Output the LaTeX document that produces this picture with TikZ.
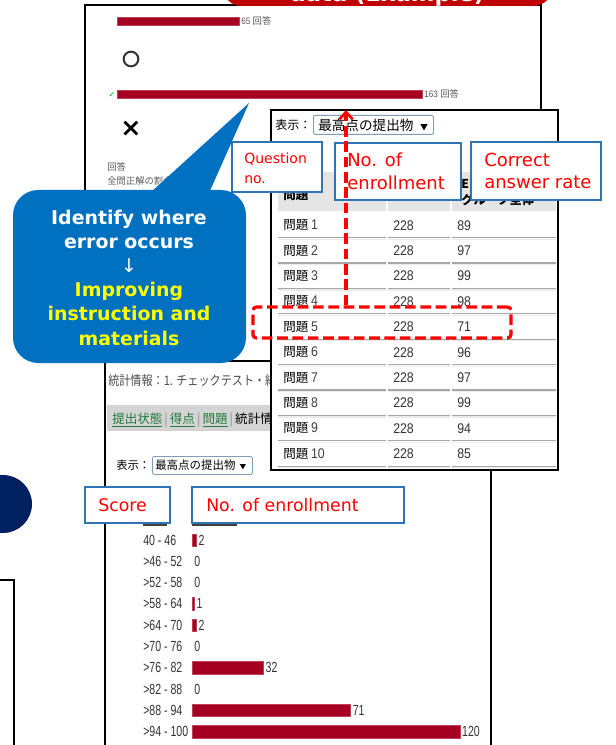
\documentclass[tikz,border=0pt]{standalone}
\usepackage{fontspec}
\setmainfont{DejaVu Sans}
\newfontfamily\jpf{Noto Sans CJK JP}
\newfontfamily\jpn[FakeStretch=0.85]{Noto Sans CJK JP}
\newfontfamily\narrowh[FakeStretch=0.72]{Liberation Sans}
\newfontfamily\narrowt[FakeStretch=0.88]{Liberation Sans}
\usetikzlibrary{arrows.meta}
\definecolor{barred}{HTML}{A50021}
\definecolor{bannerred}{HTML}{C00000}
\definecolor{lblblue}{HTML}{2E75B6}
\definecolor{bubblue}{HTML}{0070C0}
\definecolor{navyc}{HTML}{002060}
\definecolor{lblred}{HTML}{FF0000}
\definecolor{ddborder}{HTML}{7F9DB9}
\definecolor{linkgreen}{HTML}{1E7B3A}
\definecolor{bubyellow}{HTML}{FFFF00}
\begin{document}
\begin{tikzpicture}[x=0.75pt,y=-0.75pt,
  panel/.style={draw=black, line width=1.1pt, fill=white},
  lblbox/.style={draw=lblblue, line width=0.9pt, fill=white},
  lbltxt/.style={text=lblred, anchor=west, inner sep=0pt, align=left},
  reddash/.style={draw=lblred, line width=2.4pt, dash pattern=on 8pt off 3.5pt},
  bar/.style={fill=barred, draw=barred!75!white, line width=0.4pt},
  hlab/.style={anchor=west, inner sep=0pt, font=\narrowh\fontsize{11}{11}\selectfont, text=black!80},
  tjp/.style={anchor=west, inner sep=0pt, font=\jpf\fontsize{9.4}{9.4}\selectfont},
  tnum/.style={anchor=west, inner sep=0pt, font=\narrowt\fontsize{10.5}{10.5}\selectfont, text=black!80},
  dd/.style={draw=ddborder, line width=0.6pt, fill=white, rounded corners=1pt, inner sep=0pt, anchor=north west},
  small/.style={anchor=west, inner sep=0pt, text=black!65},
]
\useasboundingbox (0,0) rectangle (616,745);
\clip (0,0) rectangle (616,745);

% ---------- top panel ----------
\draw[panel] (85,5) rectangle (541,361);
\draw[bar] (117,17) rectangle (239,25);
\node[small, font=\narrowt\fontsize{7}{7}\selectfont] (c65) at (241,21) {65 {\jpf 回答}};
\node[circle, draw=black!80, line width=1.5pt, minimum size=11pt, inner sep=0pt] (circo) at (131,59) {};
\node[text=green!70!black, inner sep=0pt, font=\fontsize{6}{6}\selectfont] (chk) at (112,95) {✓};
\draw[bar] (117,90) rectangle (422,98);
\node[small, font=\narrowt\fontsize{7}{7}\selectfont] (c163) at (424,94) {163 {\jpf 回答}};
\node[inner sep=0pt, font=\bfseries\fontsize{19}{19}\selectfont] (cross) at (131,129) {×};
\node[small, font=\jpf\fontsize{7}{7}\selectfont] (kaito) at (107,167) {回答};
\node[small, font=\jpf\fontsize{7}{7}\selectfont] (zenmon) at (107,181) {全問正解の割合};

% ---------- statistics panel ----------
\draw[panel] (105,361) rectangle (491,760);
\node[anchor=west, inner sep=0pt, text=black!70, font=\jpn\fontsize{9.8}{9.8}\selectfont] (stat) at (108,381) {統計情報：1. チェックテスト・結果};
\fill[black!17] (107,405) rectangle (271,431);
\node[anchor=west, inner sep=0pt, font=\jpf\fontsize{9.4}{9.4}\selectfont] (links) at (112,420)
  {\textcolor{linkgreen}{\underline{提出状態}}\,\textcolor{black!45}{|}\,\textcolor{linkgreen}{\underline{得点}}\,\textcolor{black!45}{|}\,\textcolor{linkgreen}{\underline{問題}}\,\textcolor{black!45}{|}\,統計情報};
\node[anchor=west, inner sep=0pt, font=\jpf\fontsize{8.5}{8.5}\selectfont] (hyoji2) at (116,465) {表示：};
\node[dd, minimum width={100*0.75pt}, minimum height={18*0.75pt}] (dd2) at (152,456) {};
\node[anchor=west, inner sep=0pt, font=\jpf\fontsize{8.6}{8.6}\selectfont] (dd2t) at (155,465) {最高点の提出物\hspace{3pt}{\fontsize{5}{5}\selectfont ▼}};
\draw[black!75, line width=0.9pt] (143,525) -- (167,525);
\draw[black!75, line width=0.9pt] (192,525) -- (237,525);
\foreach \lab/\v [count=\i] in {40 - 46/2,>46 - 52/0,>52 - 58/0,>58 - 64/1,>64 - 70/2,>70 - 76/0,>76 - 82/32,>82 - 88/0,>88 - 94/71,>94 - 100/120} {
  \pgfmathsetmacro{\yy}{540+21.3*(\i-1)}
  \pgfmathsetmacro{\xe}{192+2.233*\v}
  \node[hlab] (hl\i) at (143,\yy) {\lab};
  \ifnum\v>0 \draw[bar] (192,\yy-6.2) rectangle (\xe,\yy+6.2); \fi
  \node[hlab] (hv\i) at (\xe+2,\yy) {\v};
}

% ---------- table panel ----------
\draw[panel] (271,110) rectangle (558,470);
\node[anchor=west, inner sep=0pt, font=\jpf\fontsize{9}{9}\selectfont] (hyoji1) at (275,125) {表示：};
\node[dd, minimum width={120*0.75pt}, minimum height={19*0.75pt}] (dd1) at (313,115) {};
\node[anchor=west, inner sep=0pt, font=\jpf\fontsize{10.2}{10.2}\selectfont] (dd1t) at (318,125) {最高点の提出物\hspace{5pt}{\fontsize{6}{6}\selectfont ▼}};
\fill[black!10] (278,172) rectangle (386,211);
\fill[black!10] (388,172) rectangle (450,211);
\fill[black!10] (452,172) rectangle (556,211);
\node[anchor=west, inner sep=0pt, font=\jpf\bfseries\fontsize{9.4}{9.4}\selectfont] (h1) at (283,195) {問題};
\node[anchor=west, inner sep=0pt, align=left, font=\jpf\bfseries\fontsize{9.2}{12}\selectfont] (h3) at (461,193) {EL\\グループ全体};
\foreach \v [count=\i] in {89,97,99,98,71,96,97,99,94,85} {
  \pgfmathsetmacro{\yy}{225.3+25.4*(\i-1)}
  \node[tjp] (q\i) at (283,\yy) {問題 {\narrowt\fontsize{10.5}{10.5}\selectfont\color{black!75}\i}};
  \node[tnum] (n\i) at (393,\yy) {228};
  \node[tnum] (r\i) at (457,\yy) {\v};
  \foreach \xa/\xb in {278/386,388/450,452/556} {
    \draw[black!35, line width=0.9pt] (\xa,\yy+12.2) -- (\xb,\yy+12.2);
    \draw[black!8, line width=0.9pt] (\xa,\yy+13.8) -- (\xb,\yy+13.8);
  }
}

% ---------- label boxes ----------
\draw[lblbox] (232,142) rectangle (322,192);
\node[lbltxt, font=\fontsize{10.5}{15}\selectfont] (qno) at (244,168) {Question\\no.};
\draw[lblbox] (335,143) rectangle (461,200);
\node[lbltxt, font=\fontsize{13.5}{17.3}\selectfont] (enr1) at (347,171.5) {No. of\\enrollment};
\draw[lblbox] (471,142) rectangle (601,200);
\node[lbltxt, font=\fontsize{13.5}{16.5}\selectfont] (car) at (484,171) {Correct\\answer rate};
\draw[lblbox] (85,487) rectangle (170,523);
\node[lbltxt, font=\fontsize{13}{13}\selectfont] (score) at (98,505) {Score};
\draw[lblbox] (192,487) rectangle (404,523);
\node[lbltxt, font=\fontsize{13}{13}\selectfont] (enr2) at (206,505) {No. of enrollment};

% ---------- highlight and arrow ----------
\node[reddash, rounded corners=2.5pt, minimum width={258*0.75pt}, minimum height={31*0.75pt}, inner sep=0pt] (row5box) at (382,322.5) {};
\coordinate (arrowtip) at (346,110);
\draw[reddash, -{Straight Barb[length=5.5pt,width=10pt,line width=2pt]}] (row5box.north -| arrowtip) -- (arrowtip);

% ---------- bubble ----------
\fill[bubblue, rounded corners=19pt] (13,190) rectangle (246,363);
\fill[bubblue] (150,193) -- (249,103) -- (209,193) -- cycle;
\node[align=center, inner sep=0pt, font=\bfseries\fontsize{14.2}{18.15}\selectfont] (bubtxt) at (129,277.5)
  {\textcolor{white}{Identify where}\\\textcolor{white}{error occurs}\\\textcolor{white}{\mdseries ↓}\\\textcolor{bubyellow}{Improving}\\\textcolor{bubyellow}{instruction and}\\\textcolor{bubyellow}{materials}};

% ---------- left side pieces ----------
\node[circle, fill=navyc, minimum size={58*0.75pt}, inner sep=0pt] (navycirc) at (3,504) {};
\draw[panel] (-10,580) rectangle (14,760);

% ---------- banner ----------
\fill[bannerred, rounded corners=15pt] (222,-45) rectangle (553,6);
\node[anchor=base, inner sep=0pt, text=white, font=\bfseries\fontsize{17}{17}\selectfont] (banner) at (387,2) {data (Example)};
\end{tikzpicture}
\end{document}
